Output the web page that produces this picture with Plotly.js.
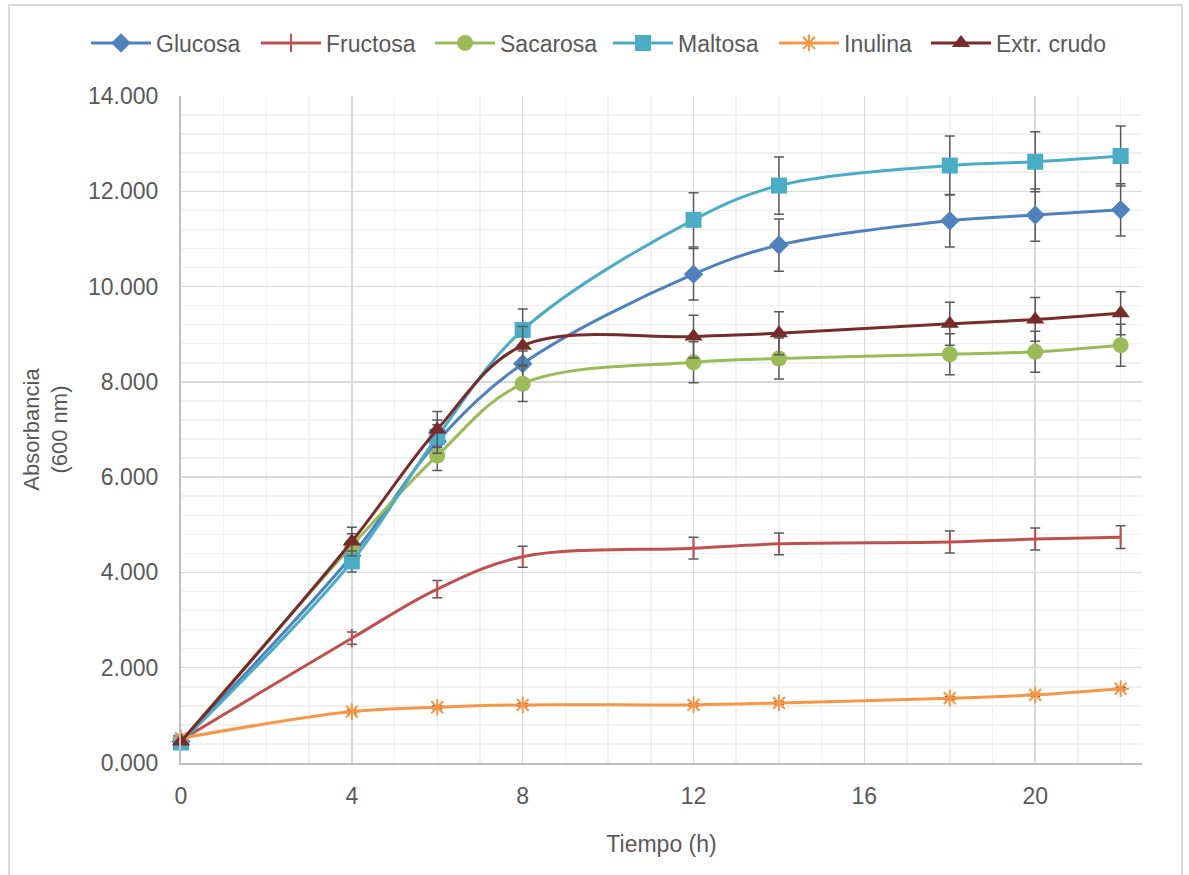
<!DOCTYPE html>
<html>
<head>
<meta charset="utf-8">
<script src="https://cdn.plot.ly/plotly-3.0.1.min.js"></script>
<style>
  html, body { margin: 0; padding: 0; background: #ffffff; }
  #chart { width: 1189px; height: 875px; }
</style>
</head>
<body>
<div id="chart"></div>
<script>
// Sampling times (h)
const tiempo = [0, 4, 6, 8, 12, 14, 18, 20, 22];

// Absorbance at 600 nm for each carbon source, with standard deviations
const glucosa      = [0.45, 4.35, 6.75, 8.38, 10.26, 10.87, 11.38, 11.50, 11.61];
const glucosaErr   = [0.03, 0.25, 0.35, 0.40, 0.54, 0.55, 0.55, 0.55, 0.55];
const fructosa     = [0.48, 2.62, 3.65, 4.33, 4.51, 4.60, 4.64, 4.70, 4.74];
const fructosaErr  = [0.03, 0.13, 0.18, 0.22, 0.23, 0.23, 0.23, 0.23, 0.24];
const sacarosa     = [0.45, 4.56, 6.45, 7.96, 8.41, 8.49, 8.58, 8.63, 8.77];
const sacarosaErr  = [0.03, 0.25, 0.31, 0.37, 0.43, 0.43, 0.43, 0.43, 0.44];
const maltosa      = [0.43, 4.23, 6.85, 9.09, 11.40, 12.12, 12.54, 12.62, 12.74];
const maltosaErr   = [0.03, 0.22, 0.35, 0.44, 0.57, 0.60, 0.62, 0.63, 0.63];
const inulina      = [0.52, 1.08, 1.17, 1.22, 1.22, 1.26, 1.36, 1.43, 1.56];
const inulinaErr   = [0.03, 0.03, 0.03, 0.03, 0.03, 0.03, 0.03, 0.03, 0.03];
const extrCrudo    = [0.45, 4.65, 7.00, 8.76, 8.95, 9.02, 9.22, 9.31, 9.44];
const extrCrudoErr = [0.03, 0.30, 0.38, 0.40, 0.45, 0.45, 0.45, 0.46, 0.45];

const FONT = 'Liberation Sans, Arial, sans-serif';
const TXT = '#595959';
const FS = 23;

function serie(name, y, err, color, symbol, size, open, legendW) {
  const marker = { symbol: symbol, size: size, color: color };
  if (open) marker.line = { color: color, width: 2 };
  else marker.line = { width: 0 };
  return {
    type: 'scatter',
    mode: 'lines+markers',
    name: name,
    x: tiempo,
    y: y,
    legendwidth: legendW,
    line: { color: color, width: 3, shape: 'spline', smoothing: 1 },
    marker: marker,
    error_y: { type: 'data', array: err, visible: true, color: '#595959', thickness: 1.5, width: 5 },
    cliponaxis: false
  };
}

const data = [
  serie('Glucosa', glucosa, glucosaErr, '#4F81BD', 'diamond', 15, false, 95),
  serie('Fructosa', fructosa, fructosaErr, '#C0504D', 'line-ns-open', 13, true, 99),
  serie('Sacarosa', sacarosa, sacarosaErr, '#9BBB59', 'circle', 16, false, 103),
  serie('Maltosa', maltosa, maltosaErr, '#4BACC6', 'square', 16, false, 91),
  serie('Inulina', inulina, inulinaErr, '#F79646', 'asterisk-open', 14, true, 77),
  serie('Extr. crudo', extrCrudo, extrCrudoErr, '#772C2A', 'triangle-up', 16, false, 118)
];

const L = 181, R = 1142, T = 96, B = 763;
const W = R - L, H = B - T;
const px = v => (v - L) / W;
const py = v => (B - v) / H;

const layout = {
  width: 1189,
  height: 875,
  margin: { l: L, r: 1189 - R, t: T, b: 875 - B, pad: 0 },
  paper_bgcolor: '#ffffff',
  plot_bgcolor: '#ffffff',
  font: { family: FONT, size: FS, color: TXT },
  showlegend: true,
  legend: {
    orientation: 'h',
    x: px(86), xanchor: 'left',
    y: py(43), yanchor: 'middle',
    font: { family: FONT, size: FS, color: TXT },
    itemwidth: 60,
    traceorder: 'normal'
  },
  xaxis: {
    range: [0, 22.5],
    tickvals: [0, 4, 8, 12, 16, 20],
    ticks: '',
    showline: true,
    linecolor: '#BFBFBF',
    linewidth: 2,
    showgrid: true,
    gridcolor: '#D9D9D9',
    gridwidth: 1.5,
    zeroline: false,
    ticklabelstandoff: 11,
    tickfont: { family: FONT, size: FS, color: TXT },
    minor: { dtick: 1, tick0: 0, showgrid: true, gridcolor: '#F0F0F0', gridwidth: 1.5 },
    title: { text: 'Tiempo (h)', font: { family: FONT, size: FS, color: TXT }, standoff: 28 }
  },
  yaxis: {
    range: [0, 14],
    dtick: 2,
    tick0: 0,
    tickformat: '.3f',
    ticks: '',
    showline: true,
    linecolor: '#BFBFBF',
    linewidth: 2,
    showgrid: true,
    gridcolor: '#D9D9D9',
    gridwidth: 1.5,
    zeroline: false,
    ticklabelstandoff: 16,
    tickfont: { family: FONT, size: FS, color: TXT },
    minor: { dtick: 0.4, tick0: 0, showgrid: true, gridcolor: '#F0F0F0', gridwidth: 1.5 },
    title: { text: 'Absorbancia<br>(600 nm)', font: { family: FONT, size: 22, color: TXT }, standoff: 14 }
  },
  shapes: [
    {
      type: 'rect', xref: 'paper', yref: 'paper',
      x0: px(9), x1: px(1182), y0: py(890), y1: py(5),
      line: { color: '#D9D9D9', width: 2 }, fillcolor: 'rgba(0,0,0,0)', layer: 'below'
    }
  ]
};

Plotly.newPlot('chart', data, layout, { staticPlot: true, displayModeBar: false });
</script>
</body>
</html>
